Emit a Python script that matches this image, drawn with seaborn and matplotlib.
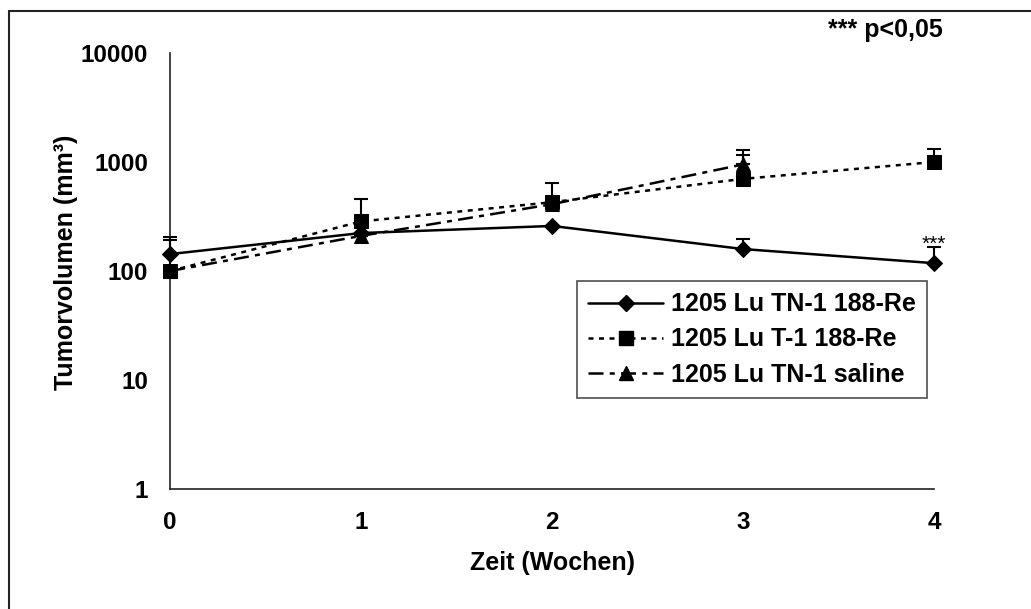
import numpy as np
import pandas as pd
import matplotlib
matplotlib.use("Agg")
import matplotlib.pyplot as plt
import seaborn as sns
from matplotlib.lines import Line2D

# -----------------------------
# Data
# -----------------------------

weeks = [0, 1, 2, 3, 4]

labels = [
    "1205 Lu TN-1 188-Re",
    "1205 Lu T-1 188-Re",
    "1205 Lu TN-1 saline",
]

tn1_re = [143, 223, 259, 159, 118]
t1_re = [100, 285, 428, 700, 1000]
tn1_saline = [100, 210, 410, 950]

# upper error bar ends
tn1_re_err = [204, 223, 259, 197, 166]
t1_re_err = [193, 458, 641, 1290, 1310]
tn1_saline_err = [100, 210, 410, 1160]

# -----------------------------
# Styling
# -----------------------------

sns.set_style("white")
plt.rcParams["font.family"] = ["Liberation Sans", "DejaVu Sans"]
plt.rcParams["font.weight"] = "bold"
plt.rcParams["text.color"] = "black"
plt.rcParams["axes.labelcolor"] = "black"
plt.rcParams["xtick.color"] = "black"
plt.rcParams["ytick.color"] = "black"

fig = plt.figure(figsize=(10.31, 6.09), dpi=100)
ax = fig.add_axes([0.165, 0.197, 0.741, 0.716])

series = [
    (tn1_re, tn1_re_err, "D", 8, "-"),
    (t1_re, t1_re_err, "s", 10, (0, (2, 2.2))),
    (tn1_saline, tn1_saline_err, "^", 10, (0, (6, 2.5, 2, 2.5))),
]

handles = []
for (vals, err, mk, ms, ls), lab in zip(series, labels):
    x = weeks[:len(vals)]
    sns.lineplot(
        x=x,
        y=vals,
        ax=ax,
        color="black",
        linewidth=1.8,
        linestyle=ls,
        marker=mk,
        markersize=ms,
        markeredgecolor="black",
        markerfacecolor="black",
        clip_on=False,
        zorder=3,
    )
    upper = np.array(err) - np.array(vals)
    eb = ax.errorbar(
        x, vals,
        yerr=[np.zeros(len(vals)), upper],
        fmt="none",
        ecolor="black",
        elinewidth=1.5,
        capsize=5.3,
        capthick=1.5,
        zorder=3,
    )
    for art in eb.lines[1] + eb.lines[2]:
        art.set_clip_on(False)
    handles.append(
        Line2D([], [], color="black", linewidth=1.8, linestyle=ls,
               marker=mk, markersize=ms)
    )

ax.set_yscale("log")
ax.set_ylim(1, 10000)
ax.set_xlim(0, 4)
ax.set_xticks(weeks)
ax.set_xticklabels([str(w) for w in weeks])
ax.set_yticks([1, 10, 100, 1000, 10000])
ax.set_yticklabels(["1", "10", "100", "1000", "10000"])
ax.minorticks_off()

for s in ["top", "right"]:
    ax.spines[s].set_visible(False)
for s in ["left", "bottom"]:
    ax.spines[s].set_color("#222222")
    ax.spines[s].set_linewidth(1.2)

ax.tick_params(axis="both", direction="out", length=6, width=1.2,
               color="#222222", labelsize=17.5)
ax.tick_params(axis="x", pad=10)
ax.tick_params(axis="y", pad=10)
for t in ax.get_xticklabels() + ax.get_yticklabels():
    t.set_fontweight("bold")

ax.set_xlabel("Zeit (Wochen)", fontsize=18, fontweight="bold", labelpad=12)
ax.set_ylabel("Tumorvolumen (mm³)", fontsize=18, fontweight="bold")
ax.yaxis.set_label_coords(-0.12, 0.52)

ax.annotate("***", xy=(4, 118), xytext=(0, 7), textcoords="offset points",
            ha="center", va="bottom", fontsize=15, fontweight="normal")

leg = ax.legend(
    handles, labels,
    loc="upper right",
    bbox_to_anchor=(927 / 1031, 1 - 281 / 609),
    bbox_transform=fig.transFigure,
    borderaxespad=0,
    fontsize=18,
    frameon=True,
    fancybox=False,
    edgecolor="#222222",
    handlelength=3.0,
    handletextpad=0.3,
    borderpad=0.45,
    labelspacing=0.45,
)
leg.get_frame().set_linewidth(1.2)
for t in leg.get_texts():
    t.set_fontweight("bold")

fig.text(0.914, 0.951, "*** p<0,05", ha="right", va="center",
         fontsize=18, fontweight="bold")

# outer frame (top and left edges visible)
fig.add_artist(Line2D([0.009, 1.0], [0.982, 0.982], color="#222222",
                      linewidth=1.5, transform=fig.transFigure))
fig.add_artist(Line2D([0.009, 0.009], [0.0, 0.982], color="#222222",
                      linewidth=1.5, transform=fig.transFigure))

fig.savefig("out.png", dpi=100)
